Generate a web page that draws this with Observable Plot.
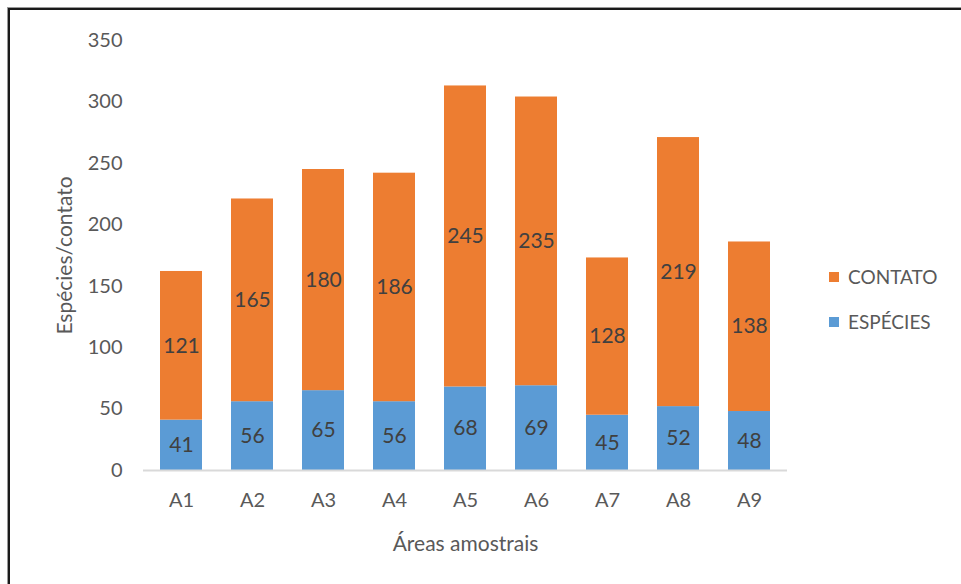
<!DOCTYPE html>
<html>
<head>
<meta charset="utf-8">
<script src="https://cdn.jsdelivr.net/npm/d3@7"></script>
<script src="https://cdn.jsdelivr.net/npm/@observablehq/plot@0.6"></script>
<style>
  html, body { margin: 0; padding: 0; background: #fff; }
  #wrap { position: relative; width: 961px; height: 584px; overflow: hidden; font-family: Lato, "Open Sans", sans-serif; }
  #frame { position: absolute; left: 8px; top: 8px; width: 970px; height: 600px; border-top: 2px solid #1a1a1a; border-left: 2px solid #1a1a1a; box-shadow: -1px -1px 0 #999; }
  #chart { position: absolute; left: 0; top: 0; }
  .legend { position: absolute; left: 829px; font-size: 19px; color: #595959; display: flex; align-items: center; }
  .legend span.sw { display: inline-block; width: 10px; height: 10px; margin-right: 9px; }
</style>
</head>
<body>
<div id="wrap">
  <div id="frame"></div>
  <div id="chart"></div>
  <div class="legend" style="top:265px"><span class="sw" style="background:#ED7D31"></span>CONTATO</div>
  <div class="legend" style="top:310px"><span class="sw" style="background:#5B9BD5"></span>ESPÉCIES</div>
</div>
<script>
const areas = ["A1","A2","A3","A4","A5","A6","A7","A8","A9"];
const especies = [41, 56, 65, 56, 68, 69, 45, 52, 48];
const contato = [121, 165, 180, 186, 245, 235, 128, 219, 138];
const seriesNames = ["ESPÉCIES", "CONTATO"];
const seriesColors = ["#5B9BD5", "#ED7D31"];
const yTicks = [0, 50, 100, 150, 200, 250, 300, 350];

const table = [];
areas.forEach((a, i) => {
  table.push({area: a, series: seriesNames[0], value: especies[i]});
  table.push({area: a, series: seriesNames[1], value: contato[i]});
});

const stackOpts = {x: "area", y: "value", z: "series", order: seriesNames};

const chart = Plot.plot({
  width: 961,
  height: 584,
  marginLeft: 143,
  marginRight: 174,
  marginTop: 40,
  marginBottom: 114,
  style: {fontFamily: "Lato, 'Open Sans', sans-serif", background: "transparent"},
  x: {domain: areas, paddingInner: 0.41, paddingOuter: 0.205},
  y: {domain: [0, 350]},
  color: {domain: seriesNames, range: seriesColors},
  marks: [
    Plot.barY(table, Plot.stackY({...stackOpts, fill: "series"})),
    Plot.ruleY([0], {stroke: "#d9d9d9", strokeWidth: 2}),
    Plot.text(table, Plot.stackY({...stackOpts, text: d => String(d.value), fill: "#404040", fontSize: 21})),
    Plot.axisY({ticks: yTicks, tickSize: 0, tickPadding: 21, fontSize: 20, color: "#595959",
      label: "Espécies/contato", labelAnchor: "center", labelArrow: "none", labelOffset: 86}),
    Plot.axisX({tickSize: 0, tickPadding: 22, fontSize: 20, color: "#595959",
      label: "Áreas amostrais", labelAnchor: "center", labelArrow: "none", labelOffset: 80})
  ]
});
document.getElementById("chart").appendChild(chart);
chart.querySelectorAll("[aria-label='y-axis label'] text, [aria-label='x-axis label'] text").forEach(t => {
  t.setAttribute("font-size", "21"); t.style.fontSize = "21px"; t.setAttribute("fill", "#595959");
});
</script>
</body>
</html>
